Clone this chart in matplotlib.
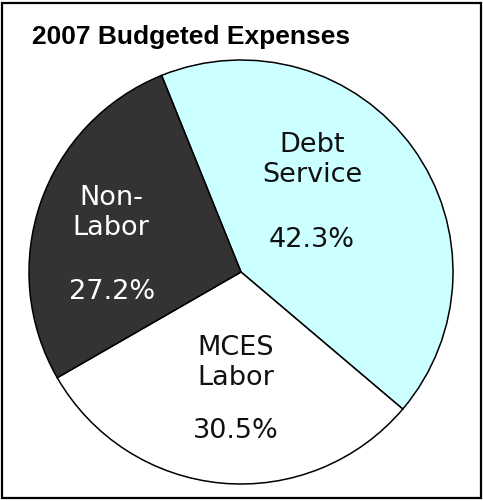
import matplotlib.pyplot as plt
from matplotlib.patches import Rectangle

labels = ['Debt\nService', 'MCES\nLabor', 'Non-\nLabor']
shares = [42.3, 30.5, 27.2]
colors = ['#CCFFFF', '#FFFFFF', '#333333']
text_colors = ['#111111', '#111111', '#FFFFFF']
# label positions in pie units (radius = 1): name centre, percent centre
name_pos = [(0.335, 0.526), (-0.024, -0.43), (-0.613, 0.276)]
pct_pos = [(0.335, 0.151), (-0.024, -0.75), (-0.608, -0.094)]

fig = plt.figure(figsize=(4.83, 5.01), dpi=100)
fig.patches.append(Rectangle((0.005, 0.005), 0.99, 0.99, transform=fig.transFigure,
                             fill=False, edgecolor='black', linewidth=1.6))

# pie centre ~ (241, 272) px, radius ~ 212 px
ax = fig.add_axes([29 / 483, 17 / 501, 424 / 483, 424 / 501])
ax.pie(shares, colors=colors, startangle=112, counterclock=False,
       wedgeprops=dict(edgecolor='black', linewidth=1.1))
ax.set_xlim(-1, 1)
ax.set_ylim(-1, 1)
ax.set_aspect('equal')
ax.axis('off')

for lab, s, c, npos, ppos in zip(labels, shares, text_colors, name_pos, pct_pos):
    ax.text(npos[0], npos[1], lab, ha='center', va='center', color=c,
            fontsize=19.5, family='DejaVu Sans', linespacing=1.2)
    ax.text(ppos[0], ppos[1], '%.1f%%' % s, ha='center', va='center', color=c,
            fontsize=19.5, family='DejaVu Sans')

fig.text(32 / 483, 1 - 44 / 501, '2007 Budgeted Expenses', ha='left', va='baseline',
         fontsize=19, fontweight='bold', family='Liberation Sans')

fig.savefig('out.png', dpi=100)
